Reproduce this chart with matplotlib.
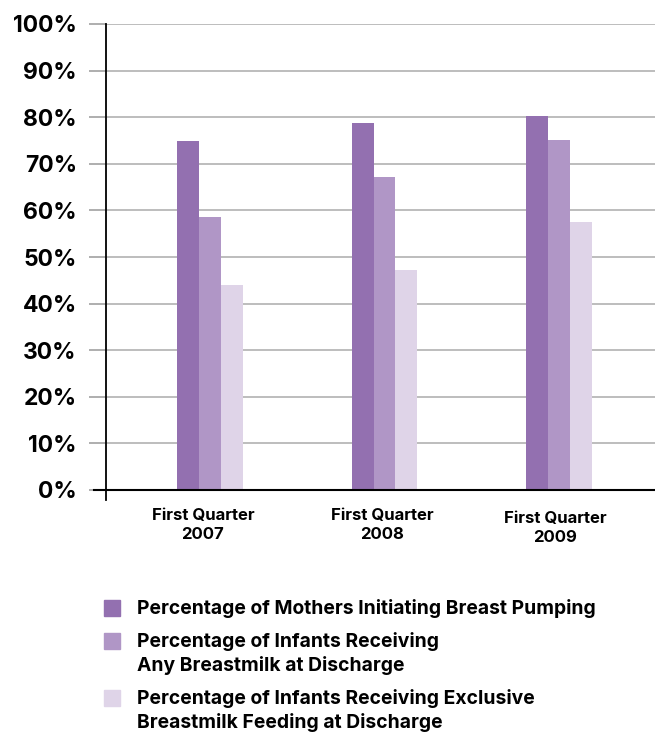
import matplotlib
matplotlib.use("Agg")
import matplotlib.pyplot as plt
from matplotlib.patches import Rectangle
import numpy as np

# Data
categories = ["First Quarter\n2007", "First Quarter\n2008", "First Quarter\n2009"]
series_labels = [
    "Percentage of Mothers Initiating Breast Pumping",
    "Percentage of Infants Receiving\nAny Breastmilk at Discharge",
    "Percentage of Infants Receiving Exclusive\nBreastmilk Feeding at Discharge",
]
mothers_pumping = [74.8, 78.7, 80.2]
any_breastmilk = [58.6, 67.2, 75.1]
exclusive_breastmilk = [44.0, 47.3, 57.5]
ytick_values = [0, 10, 20, 30, 40, 50, 60, 70, 80, 90, 100]
ytick_labels = [f"{v}%" for v in ytick_values]

colors = ["#9370B0", "#B096C6", "#DFD4E8"]
series = [mothers_pumping, any_breastmilk, exclusive_breastmilk]

plt.rcParams["font.family"] = ["Inter", "DejaVu Sans"]
WEIGHT = "bold"

W, H = 655, 734
fig = plt.figure(figsize=(W / 100, H / 100), dpi=100)
ax_left, ax_right = 106 / W, 1.0
y_top, y_zero, y_bot = 24, 490, 500
ymin = -(y_bot - y_zero) / (y_zero - y_top) * 100
ax = fig.add_axes([ax_left, 1 - y_bot / H, ax_right - ax_left, (y_bot - y_top) / H])

x = np.arange(len(categories))
bw = 0.125
for i, (vals, c) in enumerate(zip(series, colors)):
    ax.bar(x + (i - 1) * bw, vals, width=bw, color=c, zorder=3, linewidth=0)

ax.set_xlim(-0.596, 2.55)
ax.set_ylim(ymin, 100)

ax.set_yticks(ytick_values)
ax.set_yticklabels(ytick_labels, fontsize=16.5, fontweight=WEIGHT)
ax.tick_params(axis="y", length=12, width=1.3, color="#A8A8A8", pad=9)
ax.yaxis.grid(True, color="#B8B8B8", linewidth=1.3, zorder=0)

# zero baseline in black, running past the spine like the tick marks
ax.plot([-12 / (W * (ax_right - ax_left)), 1], [0, 0], transform=ax.get_yaxis_transform(),
        color="black", linewidth=1.5, clip_on=False, zorder=4)

ax.set_xticks(x)
ax.set_xticklabels([])
ax.tick_params(axis="x", length=0)
label_pos = [(203, 525), (382, 525), (555, 528)]
for lab, (px, py) in zip(categories, label_pos):
    fig.text(px / W, 1 - py / H, lab, ha="center", va="center", fontsize=12,
             fontweight=WEIGHT, linespacing=1.4)

for s in ["top", "right", "bottom"]:
    ax.spines[s].set_visible(False)
ax.spines["left"].set_color("black")
ax.spines["left"].set_linewidth(1.3)

# legend drawn as squares with text to their right
legend_rows = [600, 633, 690]
for lab, c, top in zip(series_labels, colors, legend_rows):
    fig.patches.append(Rectangle((104 / W, 1 - (top + 16) / H), 16 / W, 16 / H,
                                 transform=fig.transFigure, color=c, figure=fig))
    fig.text(137 / W, 1 - (top - 1) / H, lab, ha="left", va="top", fontsize=13.9,
             fontweight=WEIGHT, linespacing=1.33)

fig.savefig("out.png", dpi=100)
